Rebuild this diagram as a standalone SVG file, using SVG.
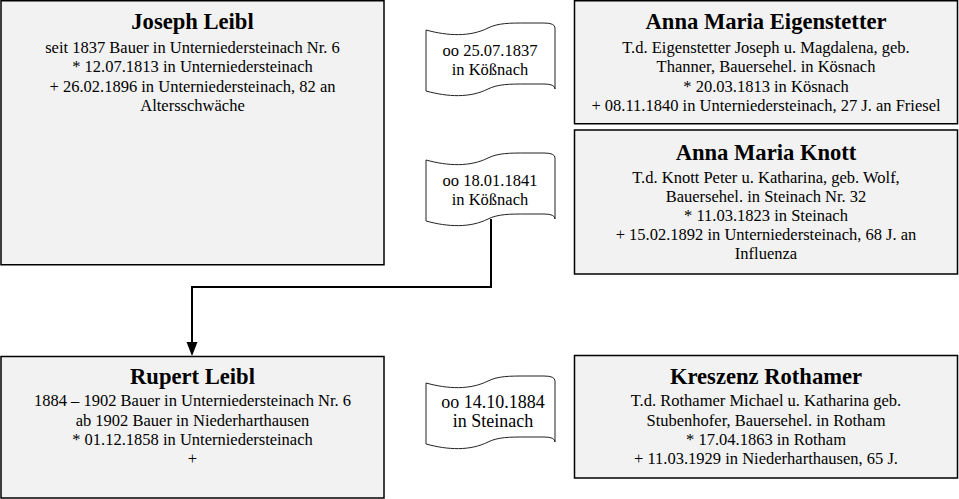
<svg xmlns="http://www.w3.org/2000/svg" width="959" height="499" viewBox="0 0 959 499">
<defs>
<style>
.box{fill:#f2f2f2;stroke:#000;stroke-width:1.5}
.ban{fill:#fff;stroke:#222;stroke-width:1}
.nm{font-family:"Liberation Serif","Times New Roman",serif;font-weight:bold;font-size:22.6px;text-anchor:middle;fill:#000}
.tx{font-family:"Liberation Serif","Times New Roman",serif;font-size:16.5px;text-anchor:middle;fill:#000}
.bt{font-family:"Liberation Serif","Times New Roman",serif;font-size:16.5px;text-anchor:middle;fill:#000}
.conn{fill:none;stroke:#000;stroke-width:2}
</style>
<path id="wave" d="M0,0 C22,6 44,7 62,-2 C72,-7 84,-7 100,-7 L118,-7 Q129,-7 129,-2 L129,59 Q129,54 118,54 L100,54 C84,54 72,54 62,59 C44,68 22,67 0,61 Z"/>
</defs>
<rect width="959" height="499" fill="#fff"/>

<g id="connectors">
<path class="conn" d="M491,219 V287 H192 V343"/>
<polygon points="186.5,342 197.5,342 192,356" fill="#000"/>
</g>

<g id="joseph">
<rect class="box" x="1" y="0.75" width="383" height="264"/>
<text class="nm" x="192.5" y="29">Joseph Leibl</text>
<text class="tx" x="192.5" y="53">seit 1837 Bauer in Unterniedersteinach Nr. 6</text>
<text class="tx" x="192.5" y="72">* 12.07.1813 in Unterniedersteinach</text>
<text class="tx" x="192.5" y="92">+ 26.02.1896 in Unterniedersteinach, 82 an</text>
<text class="tx" x="192.5" y="111">Altersschwäche</text>
</g>

<g id="marriage1">
<use href="#wave" class="ban" x="426" y="30"/>
<text class="bt" x="490" y="56">oo 25.07.1837</text>
<text class="bt" x="490" y="75">in Kößnach</text>
</g>

<g id="eigenstetter">
<rect class="box" x="574.5" y="0.75" width="383" height="123"/>
<text class="nm" x="766" y="29">Anna Maria Eigenstetter</text>
<text class="tx" x="766" y="53">T.d. Eigenstetter Joseph u. Magdalena, geb.</text>
<text class="tx" x="766" y="72">Thanner, Bauersehel. in Kösnach</text>
<text class="tx" x="766" y="92">* 20.03.1813 in Kösnach</text>
<text class="tx" x="766" y="111">+ 08.11.1840 in Unterniedersteinach, 27 J. an Friesel</text>
</g>

<g id="marriage2">
<use href="#wave" class="ban" x="426" y="160"/>
<text class="bt" x="490" y="186">oo 18.01.1841</text>
<text class="bt" x="490" y="205">in Kößnach</text>
</g>

<g id="knott">
<rect class="box" x="574.5" y="130" width="383" height="144"/>
<text class="nm" x="766" y="160">Anna Maria Knott</text>
<text class="tx" x="766" y="183">T.d. Knott Peter u. Katharina, geb. Wolf,</text>
<text class="tx" x="766" y="202">Bauersehel. in Steinach Nr. 32</text>
<text class="tx" x="766" y="221">* 11.03.1823 in Steinach</text>
<text class="tx" x="766" y="240">+ 15.02.1892 in Unterniedersteinach, 68 J. an</text>
<text class="tx" x="766" y="259">Influenza</text>
</g>

<g id="rupert">
<rect class="box" x="1" y="356.5" width="383" height="141.5"/>
<text class="nm" x="192.5" y="384">Rupert Leibl</text>
<text class="tx" x="192.5" y="406">1884 – 1902 Bauer in Unterniedersteinach Nr. 6</text>
<text class="tx" x="192.5" y="426">ab 1902 Bauer in Niederharthausen</text>
<text class="tx" x="192.5" y="445">* 01.12.1858 in Unterniedersteinach</text>
<text class="tx" x="192.5" y="464">+</text>
</g>

<g id="marriage3">
<use href="#wave" class="ban" x="426" y="383"/>
<text class="bt" x="493" y="408" style="font-size:18px">oo 14.10.1884</text>
<text class="bt" x="493" y="427" style="font-size:18px">in Steinach</text>
</g>

<g id="rothamer">
<rect class="box" x="574.5" y="355.5" width="383" height="122.5"/>
<text class="nm" x="766" y="384">Kreszenz Rothamer</text>
<text class="tx" x="766" y="406">T.d. Rothamer Michael u. Katharina geb.</text>
<text class="tx" x="766" y="426">Stubenhofer, Bauersehel. in Rotham</text>
<text class="tx" x="766" y="445">* 17.04.1863 in Rotham</text>
<text class="tx" x="766" y="464">+ 11.03.1929 in Niederharthausen, 65 J.</text>
</g>
</svg>
